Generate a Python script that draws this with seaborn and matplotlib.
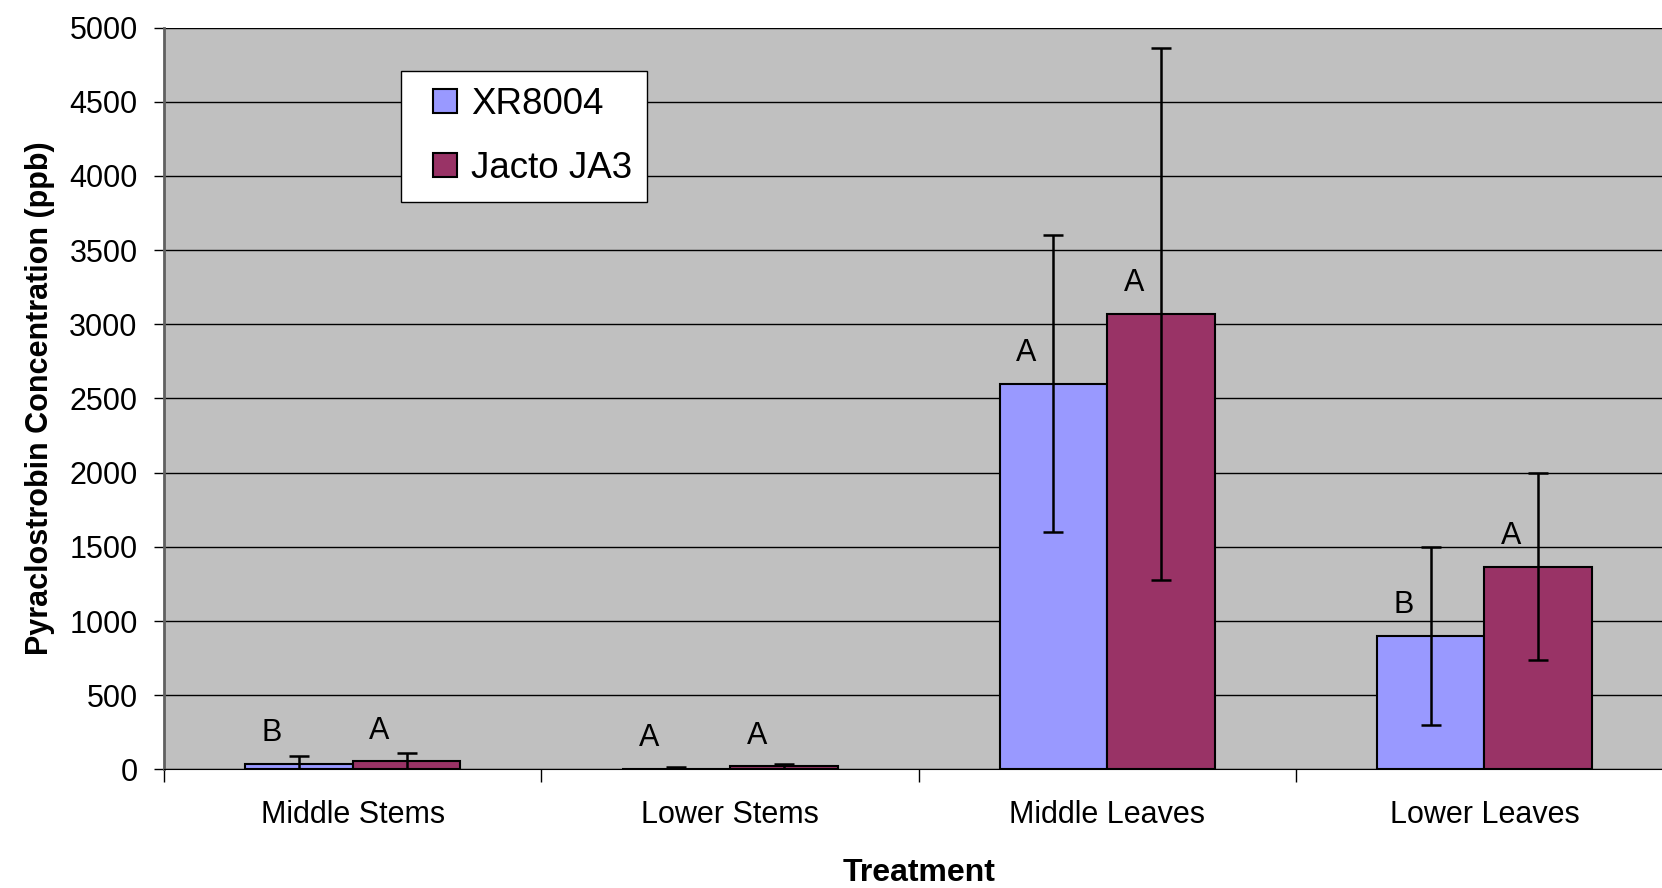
import pandas as pd
import seaborn as sns
import matplotlib.pyplot as plt
from matplotlib.patches import Patch, Rectangle
from matplotlib.legend_handler import HandlerPatch

# values (ppb)
treatments = ['Middle Stems', 'Lower Stems', 'Middle Leaves', 'Lower Leaves']
nozzles = ['XR8004', 'Jacto JA3']
xr_mean = [38, 5, 2600, 900]
xr_err = [52, 12, 1000, 600]
jacto_mean = [56, 20, 3070, 1365]
jacto_err = [52, 20, 1790, 630]
xr_letters = ['B', 'A', 'A', 'B']
jacto_letters = ['A', 'A', 'A', 'A']
colors = ['#9999FF', '#993366']
yticks = [0, 500, 1000, 1500, 2000, 2500, 3000, 3500, 4000, 4500, 5000]

df = pd.DataFrame({
    'Treatment': treatments * 2,
    'Nozzle': [nozzles[0]] * 4 + [nozzles[1]] * 4,
    'ppb': xr_mean + jacto_mean,
})
errs = {nozzles[0]: xr_err, nozzles[1]: jacto_err}
letters = {nozzles[0]: xr_letters, nozzles[1]: jacto_letters}
means = {nozzles[0]: xr_mean, nozzles[1]: jacto_mean}

plt.rcParams['font.family'] = ['Liberation Sans', 'DejaVu Sans']

fig = plt.figure(figsize=(16.62, 8.88), dpi=100)
# plot area runs slightly past the right edge, as in the original
ax = fig.add_axes([0.0987, 0.1335, 0.908, 0.8355])
ax.set_facecolor('#C0C0C0')

sns.barplot(data=df, x='Treatment', y='ppb', hue='Nozzle', order=treatments,
            hue_order=nozzles, palette=colors, width=0.571, errorbar=None,
            edgecolor='black', linewidth=1.5, saturation=1, ax=ax, zorder=3)

# error bars and significance letters on top of each bar
for cont, noz in zip(ax.containers, nozzles):
    xs = [b.get_x() + b.get_width() / 2 for b in cont]
    ax.errorbar(xs, means[noz], yerr=errs[noz], fmt='none', ecolor='black',
                elinewidth=1.8, capsize=7.5, capthick=1.8, zorder=4)
    for b, m, lab in zip(cont, means[noz], letters[noz]):
        ax.text(b.get_x() + b.get_width() * 0.25, m + 205, lab,
                ha='center', va='center', fontsize=22, zorder=5)

ax.set_ylim(0, 5000)
ax.set_xlim(-0.5, 3.5)
ax.set_yticks(yticks)
ax.yaxis.grid(True, color='black', linewidth=1)
ax.set_axisbelow(True)
ax.tick_params(axis='y', labelsize=22, length=7, width=1, pad=12, direction='out')
ax.tick_params(axis='x', which='major', labelsize=22, length=0, pad=22)
ax.set_xticks([-0.5, 0.5, 1.5, 2.5, 3.5], minor=True)
ax.tick_params(axis='x', which='minor', length=9, width=1, direction='out')

for s in ['top', 'right']:
    ax.spines[s].set_visible(False)
ax.spines['left'].set_color('#606060')
ax.spines['left'].set_linewidth(2)
ax.spines['bottom'].set_color('black')

ax.set_xlabel('Treatment', fontsize=23, fontweight='bold', labelpad=20)
ax.set_ylabel('Pyraclostrobin Concentration (ppb)', fontsize=22, fontweight='bold', labelpad=10)


# small square swatch sitting at the right end of the handle box
def square_patch(legend, orig_handle, xdescent, ydescent, width, height, fontsize):
    s = height
    return Rectangle((-xdescent + width - s, -ydescent), s, s)


handles = [Patch(facecolor=c, edgecolor='black', linewidth=1.5) for c in colors]
ax.legend(handles, nozzles, loc='upper left', bbox_to_anchor=(0.157, 0.941),
          fontsize=26.5, frameon=True, fancybox=False, framealpha=1,
          edgecolor='black', handlelength=1.11, handleheight=0.63,
          handletextpad=0.37, borderpad=0.42, labelspacing=0.8, borderaxespad=0,
          handler_map={Patch: HandlerPatch(patch_func=square_patch)})
leg = ax.get_legend()
leg.get_frame().set_linewidth(1)

fig.savefig('out.png', dpi=100)
